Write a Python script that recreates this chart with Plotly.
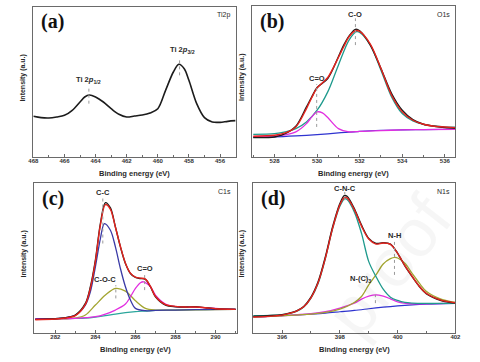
import plotly.graph_objects as go

# ---------------- Panel (a) Ti2p ----------------
a_be = [468, 467.5, 467, 466.5, 466, 465.5, 465, 464.7, 464.4, 464, 463.5, 463, 462.5, 462,
        461.5, 461, 460.5, 460, 459.5, 459, 458.65, 458.3, 458, 457.5, 457, 456.5, 456, 455.5, 455]
a_raw = [122, 118, 117, 120, 125, 140, 165, 180, 186, 180, 165, 145, 128, 120,
         123, 126, 132, 145, 200, 255, 278, 265, 230, 160, 118, 105, 104, 107, 109]

# ---------------- Panel (b) O1s ----------------
b_be = [527, 528, 528.5, 529, 529.5, 529.75, 530, 530.5, 531, 531.25, 531.5, 531.8, 532,
        532.5, 533, 533.5, 534, 534.5, 535, 535.5, 536, 536.5]
b_raw = [58, 60, 70, 92, 150, 180, 208, 235, 300, 335, 362, 382, 378, 335, 265, 190, 140, 112, 98, 92, 88, 86]
b_fit = [62, 65, 72, 90, 145, 178, 207, 238, 298, 330, 360, 378, 376, 338, 265, 185, 135, 110, 98, 92, 90, 88]
b_co_be = [527, 528, 528.5, 529, 529.5, 530, 530.5, 531, 531.5, 531.85, 532, 532.5, 533, 533.5,
           534, 534.5, 535, 535.5, 536, 536.5]
b_co = [68, 70, 75, 85, 105, 140, 195, 275, 350, 375, 373, 335, 260, 180, 130, 108, 98, 93, 90, 89]
b_cdo_be = [527, 528, 528.5, 529, 529.5, 529.75, 530, 530.25, 530.5, 531, 531.5, 532, 533, 534, 535, 536.5]
b_cdo = [61, 63, 66, 75, 100, 120, 135, 132, 118, 85, 75, 77, 79, 81, 82, 83]
b_bg_be = [527, 528, 529, 530, 531, 532, 533, 534, 535, 536.5]
b_bg = [59, 60, 63, 67, 72, 77, 80, 81, 82, 83]

# ---------------- Panel (c) C1s ----------------
c_be = [281, 282, 282.5, 283, 283.5, 283.75, 284, 284.25, 284.5, 284.75, 285, 285.25, 285.5,
        285.75, 286, 286.25, 286.5, 286.75, 287, 287.5, 288, 288.5, 289, 289.5, 290, 291]
c_raw = [41, 43, 46, 54, 89, 139, 219, 329, 392, 376, 319, 259, 209, 179, 167, 164, 161, 139, 109,
         84, 79, 78, 79, 76, 73, 71]
c_fit = [40, 42, 45, 52, 86, 135, 215, 325, 386, 372, 318, 260, 210, 180, 168, 165, 162, 140, 110,
         85, 80, 78, 78, 76, 73, 71]
c_cc_be = [281, 282, 282.5, 283, 283.5, 283.75, 284, 284.25, 284.45, 284.75, 285, 285.25, 285.5,
           285.75, 286, 286.5, 287, 288, 289, 291]
c_cc = [41, 43, 46, 54, 84, 124, 199, 284, 329, 309, 259, 194, 139, 99, 74, 67, 68, 69, 70, 71]
c_coc_be = [281, 283, 283.5, 284, 284.5, 285, 285.5, 286, 286.5, 287, 288, 291]
c_coc = [43, 45, 54, 84, 114, 134, 126, 97, 74, 69, 69, 71]
c_cdo_be = [281, 283, 284, 284.5, 285, 285.5, 285.75, 286, 286.25, 286.4, 286.75, 287, 287.5,
            288, 288.5, 289, 290, 291]
c_cdo = [43, 44, 49, 57, 69, 87, 109, 134, 151, 154, 139, 114, 87, 79, 78, 78, 74, 71]
c_bg_be = [281, 282, 283, 283.5, 284, 284.5, 285, 285.5, 286, 286.5, 287, 288, 289, 290, 291]
c_bg = [43, 43, 44, 45, 48, 52, 57, 61, 64, 66, 68, 69, 70, 71, 71]

# ---------------- Panel (d) N1s ----------------
d_be = [395, 395.5, 396, 396.25, 396.5, 396.75, 397, 397.25, 397.5, 397.75, 398, 398.15, 398.25,
        398.5, 398.75, 399, 399.25, 399.5, 399.75, 400, 400.25, 400.5, 400.75, 401, 401.5, 402]
d_raw = [50, 52, 55, 60, 67, 80, 108, 155, 230, 320, 390, 414, 412, 375, 325, 285, 270, 272, 268,
         240, 202, 170, 140, 118, 98, 90]
d_fit = [48, 50, 54, 59, 66, 79, 106, 152, 226, 316, 386, 408, 407, 372, 322, 283, 268, 271, 267,
         240, 203, 171, 141, 119, 99, 91]
d_cnc_be = [395, 396, 396.5, 396.75, 397, 397.25, 397.5, 397.75, 398, 398.17, 398.25, 398.5, 398.75,
            399, 399.25, 399.5, 399.75, 400, 400.25, 400.5, 401, 401.5, 402]
d_cnc = [52, 55, 65, 78, 105, 150, 225, 315, 382, 405, 402, 365, 300, 215, 170, 132, 108, 98, 92,
         90, 89, 89, 89]
d_nh_be = [395, 396, 397, 397.5, 398, 398.5, 398.75, 399, 399.25, 399.5, 399.75, 399.9, 400, 400.25,
           400.5, 400.75, 401, 401.5, 402]
d_nh = [48, 52, 57, 62, 72, 92, 110, 145, 175, 208, 224, 228, 226, 210, 180, 150, 125, 102, 92]
d_nc3_be = [395, 396, 397, 397.5, 398, 398.5, 398.75, 399, 399.25, 399.5, 399.75, 400, 400.5, 401, 402]
d_nc3 = [48, 52, 58, 64, 75, 90, 102, 111, 115, 111, 103, 94, 88, 88, 90]
d_bg_be = [395, 396, 397, 397.5, 398, 398.5, 399, 399.5, 400, 400.5, 401, 402]
d_bg = [48, 52, 57, 60, 64, 68, 73, 78, 82, 85, 87, 89]

# peak labels: (panel, text, x, label_y, marker_y0, marker_y1)
peak_labels = [
    ("", "Ti 2<i>p</i><sub>1/2</sub>", 464.43, 230, 160, 212),
    ("", "Ti 2<i>p</i><sub>3/2</sub>", 458.6, 322, 245, 290),
    ("2", "C-O", 531.8, 427, 335, 415),
    ("2", "C=O", 529.98, 235, 90, 218),
    ("3", "C-C", 284.37, 421, 269, 409),
    ("3", "C-O-C", 285.02, 161, 104, 144),
    ("3", "C=O", 286.46, 193, 129, 177),
    ("4", "C-N-C", 398.17, 434, 400, 425),
    ("4", "N-H", 399.89, 294, 175, 280),
    ("4", "N-(C)<sub>3</sub>", 399.23, 162, 90, 115),
]
peak_label_dx = {"C-O-C": -0.55, "N-(C)<sub>3</sub>": -0.5, "Ti 2<i>p</i><sub>3/2</sub>": -0.2}

panel_tags = ["(a)", "(b)", "(c)", "(d)"]
panel_names = ["Ti2p", "O1s", "C1s", "N1s"]
x_ranges = [[468, 455], [526.95, 536.5], [280.95, 291.05], [395.0, 402.0]]
y_ranges = [[0, 450], [0, 452], [0, 451], [0, 452]]
watermark = "proof"

RED = "#e5231d"
BLACK = "#1c1c1c"
TEAL = "#1f9a8d"
MAG = "#e22ee0"
BLUE = "#2f34d0"
NAVY = "#3a3aa6"
OLIVE = "#a3a531"
TEAL2 = "#2ba69c"

fig = go.Figure()


def line(x, y, color, width, ax):
    fig.add_trace(go.Scatter(
        x=x, y=y, mode="lines",
        line=dict(color=color, width=width, shape="spline", smoothing=0.9),
        xaxis="x" + ax, yaxis="y" + ax, showlegend=False, hoverinfo="skip"))


# panel a
line(a_be, a_raw, BLACK, 1.6, "")
# panel b
line(b_bg_be, b_bg, BLUE, 1.2, "2")
line(b_co_be, b_co, TEAL, 1.3, "2")
line(b_cdo_be, b_cdo, MAG, 1.3, "2")
line(b_be, b_raw, BLACK, 1.4, "2")
line(b_be, b_fit, RED, 1.4, "2")
# panel c
line(c_bg_be, c_bg, TEAL2, 1.2, "3")
line(c_coc_be, c_coc, OLIVE, 1.3, "3")
line(c_cdo_be, c_cdo, MAG, 1.3, "3")
line(c_cc_be, c_cc, NAVY, 1.3, "3")
line(c_be, c_raw, BLACK, 1.4, "3")
line(c_be, c_fit, RED, 1.4, "3")
# panel d
line(d_bg_be, d_bg, BLUE, 1.2, "4")
line(d_nc3_be, d_nc3, MAG, 1.3, "4")
line(d_nh_be, d_nh, OLIVE, 1.3, "4")
line(d_cnc_be, d_cnc, TEAL, 1.3, "4")
line(d_be, d_raw, BLACK, 1.4, "4")
line(d_be, d_fit, RED, 1.4, "4")

annotations = []
# faint watermark
annotations.append(dict(
    x=392 / 480, y=1 - 266 / 362, xref="paper", yref="paper", text=watermark,
    xanchor="center", yanchor="middle",
    textangle=-52, showarrow=False,
    font=dict(family="Liberation Sans", size=68, color="rgba(0,0,0,0.035)")))

for ax, text, xpos, ly, y0, y1 in peak_labels:
    fig.add_trace(go.Scatter(
        x=[xpos, xpos], y=[y0, y1], mode="lines",
        line=dict(color="#9a9a9a", width=1, dash="dot"),
        xaxis="x" + ax, yaxis="y" + ax, showlegend=False, hoverinfo="skip"))
    annotations.append(dict(
        x=xpos + peak_label_dx.get(text, 0), y=ly, xref="x" + ax, yref="y" + ax,
        text="<b>" + text + "</b>", showarrow=False,
        font=dict(family="Liberation Sans", size=7.5, color="#2a2a2a")))

# panel geometry (paper coords)
W, H = 480, 362
boxes = [(29, 236, 7, 157), (253, 461, 6, 157), (30, 237, 183, 333), (254, 461, 183, 333)]

layout = dict(width=W, height=H, margin=dict(l=0, r=0, t=0, b=0),
              paper_bgcolor="white", plot_bgcolor="white")
axis_col = "#6a6a6a"
for i, (x0, x1, y0, y1) in enumerate(boxes):
    sfx = "" if i == 0 else str(i + 1)
    layout["xaxis" + sfx] = dict(
        domain=[x0 / W, x1 / W], range=x_ranges[i], anchor="y" + sfx,
        showline=True, linecolor=axis_col, linewidth=1, mirror=True,
        ticks="inside", ticklen=3, tickwidth=1, tickcolor=axis_col,
        dtick=2, tick0=0, showgrid=False, zeroline=False, ticklabelstandoff=-2,
        tickfont=dict(family="Liberation Sans", size=6, color="#333", weight="bold"),
        minor=dict(ticks="inside", ticklen=2, dtick=1, tick0=0, tickcolor=axis_col, showgrid=False),
    )
    layout["yaxis" + sfx] = dict(
        domain=[1 - y1 / H, 1 - y0 / H], range=y_ranges[i], anchor="x" + sfx,
        showline=True, linecolor=axis_col, linewidth=1, mirror=True,
        ticks="", showticklabels=False, showgrid=False, zeroline=False,
    )
    # axis titles
    annotations.append(dict(
        x=(x0 + x1) / 2 / W, y=1 - (y1 + 16.5) / H, xref="paper", yref="paper",
        xanchor="center", yanchor="middle",
        text="<b>Binding energy (eV)</b>", showarrow=False,
        font=dict(family="Liberation Sans", size=7.5, color="#2a2a2a")))
    annotations.append(dict(
        x=(x0 - 11) / W, y=1 - ((y0 + y1) / 2 - 4) / H, xref="paper", yref="paper",
        xanchor="center", yanchor="middle",
        text="<b>Intensity (a.u.)</b>", textangle=-90, showarrow=False,
        font=dict(family="Liberation Sans", size=7, color="#2a2a2a")))
    # panel tag and element name
    annotations.append(dict(
        x=(x0 + 6) / W, y=1 - (y0 + 15) / H, xref="paper", yref="paper",
        xanchor="left", yanchor="middle",
        text="<b>" + panel_tags[i] + "</b>", showarrow=False,
        font=dict(family="Liberation Serif", size=20, color="#111")))
    annotations.append(dict(
        x=(x1 - 4) / W, y=1 - (y0 + 8) / H, xref="paper", yref="paper",
        xanchor="right", yanchor="middle",
        text=panel_names[i], showarrow=False,
        font=dict(family="Liberation Sans", size=7, color="#2a2a2a")))

layout["annotations"] = annotations
fig.update_layout(**layout)
fig.write_html("out.html", config={"displayModeBar": False},
               post_script="document.body.style.margin='0';document.body.style.overflow='hidden';")
